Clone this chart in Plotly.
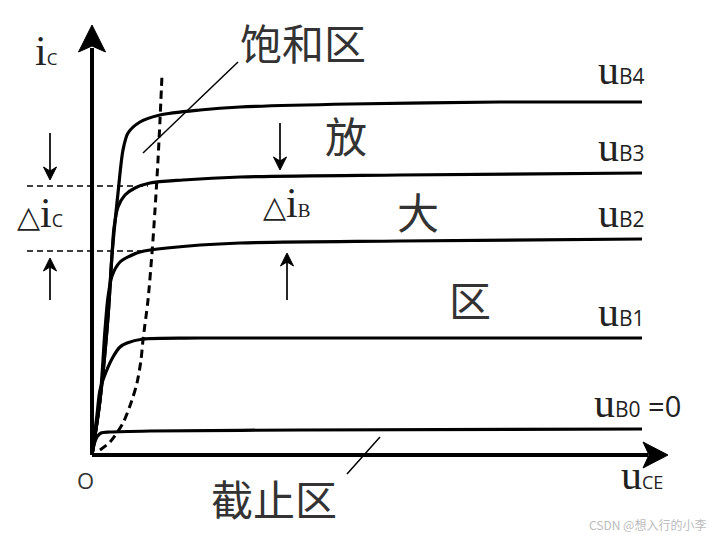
import plotly.graph_objects as go

# ---- data (u_CE in V, i_C in mA) ----
uB4_u = [0.00, 0.16, 0.32, 0.40, 0.52, 0.62, 0.72, 0.96, 1.36, 2.16, 2.96, 5.16, 8.16, 11.0]
uB4_i = [0.00, 0.55, 1.38, 2.00, 2.62, 3.05, 3.22, 3.33, 3.40, 3.45, 3.48, 3.51, 3.53, 3.53]

uB3_u = [0.00, 0.16, 0.32, 0.40, 0.44, 0.52, 0.66, 0.86, 1.16, 1.82, 2.96, 6.16, 11.0]
uB3_i = [0.00, 0.55, 1.38, 2.00, 2.27, 2.48, 2.60, 2.67, 2.72, 2.75, 2.78, 2.80, 2.82]

uB2_u = [0.00, 0.16, 0.26, 0.32, 0.40, 0.56, 0.76, 0.96, 1.50, 2.96, 6.16, 11.0]
uB2_i = [0.00, 0.55, 1.25, 1.58, 1.79, 1.93, 1.99, 2.03, 2.07, 2.12, 2.14, 2.16]

uB1_u = [0.00, 0.10, 0.16, 0.28, 0.42, 0.56, 0.70, 1.02, 2.16, 11.0]
uB1_i = [0.00, 0.40, 0.65, 0.83, 0.98, 1.08, 1.12, 1.16, 1.17, 1.17]

uB0_u = [0.00, 0.04, 0.10, 0.18, 0.36, 1.16, 4.16, 11.0]
uB0_i = [0.00, 0.10, 0.18, 0.22, 0.23, 0.24, 0.25, 0.26]

sat_u = [0.16, 0.36, 0.62, 0.80, 0.90, 0.98, 1.02, 1.12, 1.20, 1.26, 1.32, 1.36, 1.40]
sat_i = [0.05, 0.13, 0.32, 0.55, 0.72, 0.95, 1.15, 1.55, 2.02, 2.45, 2.95, 3.35, 3.80]

curve_labels = ["B4", "B3", "B2", "B1", "B0"]
delta_levels = [2.69, 2.04]          # dashed Δi_C guide levels (mA)

# ---- pixel <-> data helpers (origin at pixel 92,455; 50 px/V, 100 px/mA) ----
OX, OY, SX, SY = 92, 455, 50.0, 100.0
def X(px): return (px - OX) / SX
def Y(py): return (OY - py) / SY

fig = go.Figure()

def line(xs, ys, w=3, dash="solid", shape="spline", color="black"):
    fig.add_trace(go.Scatter(x=xs, y=ys, mode="lines",
                             line=dict(color=color, width=w, dash=dash, shape=shape, smoothing=0.8),
                             hoverinfo="skip"))

def head(tip, direction, L, W, notch):
    tx, ty = tip
    dx, dy = direction
    nx, ny = -dy, dx
    bx, by = tx - dx * L, ty - dy * L
    pts = [(tx, ty), (bx + nx * W, by + ny * W), (tx - dx * (L - notch), ty - dy * (L - notch)),
           (bx - nx * W, by - ny * W), (tx, ty)]
    fig.add_trace(go.Scatter(x=[X(p[0]) for p in pts], y=[Y(p[1]) for p in pts], mode="lines",
                             fill="toself", fillcolor="black", line=dict(color="black", width=1),
                             hoverinfo="skip"))

# axes
line([0, 0], [0, Y(48)], w=4, shape="linear")
head((92, 25), (0, -1), 27, 13.5, 6)
line([0, X(648)], [0, 0], w=4, shape="linear")
head((668, 455), (1, 0), 25, 13, 6)

# characteristic curves
for xs, ys in [(uB4_u, uB4_i), (uB3_u, uB3_i), (uB2_u, uB2_i), (uB1_u, uB1_i), (uB0_u, uB0_i)]:
    line(xs, ys, w=3.2)

# saturation boundary
line(sat_u, sat_i, w=3, dash="8px,5px")

# Δi_C guide lines
for lv in delta_levels:
    line([X(27), X(148)], [lv, lv], w=1.5, dash="6px,4px", shape="linear")

# thin arrows
def arrow(x, y0, y1):
    d = 1 if y1 > y0 else -1
    line([X(x), X(x)], [Y(y0), Y(y1 - d * 8)], w=1.7, shape="linear")
    head((x, y1), (0, d), 13, 6.5, 4)

arrow(50, 133, 180)
arrow(50, 300, 258)
arrow(280, 123, 170)
arrow(287, 300, 253)

# leader lines
line([X(238), X(143)], [Y(62), Y(153)], w=1.5, shape="linear")
line([X(380), X(347)], [Y(437), Y(474)], w=1.5, shape="linear")

ann = []
def txt(s, px, py, size, family, color="#333", xa="center", ya="middle"):
    ann.append(dict(text=s, x=X(px), y=Y(py), xref="x", yref="y", showarrow=False,
                    xanchor=xa, yanchor=ya, font=dict(size=size, family=family, color=color)))

CJK = "Noto Sans CJK SC"
txt("饱和区", 303, 41, 42, CJK)
txt("放", 346, 134, 42, CJK)
txt("大", 418, 210, 42, CJK)
txt("区", 470, 298, 42, CJK)
txt("截止区", 274, 497, 42, CJK)
txt("O", 85, 480, 22, "Open Sans")

SER = "Liberation Serif"
SUB = "font-family:Open Sans;"
def sub(s, size):
    return "<span style='%sfont-size:%dpx'>%s</span>" % (SUB, size, s)
TRI = "<span style='font-family:DejaVu Sans;font-size:30px'>△</span>"

# i_C
txt("i" + sub("C", 17), 33, 76, 42, SER, color="#222", xa="left", ya="bottom")
# Δi_C
txt(TRI + "i" + sub("C", 18), 15, 238, 42, SER, color="#222", xa="left", ya="bottom")
# Δi_B
txt(TRI + "i" + "<span style='font-size:19px'>B</span>", 261, 228, 42, SER, color="#222", xa="left", ya="bottom")

# u_B labels
base_y = [85, 162, 228, 327]
for lab, by in zip(curve_labels[:4], base_y):
    txt("u" + sub(lab, 21), 596, by + 10, 42, SER, color="#222", xa="left", ya="bottom")
txt("u" + sub("B0", 21) + "<span style='font-family:Open Sans;font-size:29px'> =0</span>",
    592, 428, 42, SER, color="#222", xa="left", ya="bottom")
# u_CE
txt("u" + sub("CE", 18), 619, 500, 42, SER, color="#222", xa="left", ya="bottom")

# watermark
txt("CSDN @想入行的小李", 708, 524, 12, CJK, color="#bbbbbb", xa="right")

fig.update_layout(
    width=720, height=537, margin=dict(l=0, r=0, t=0, b=0),
    paper_bgcolor="white", plot_bgcolor="white", showlegend=False,
    xaxis=dict(range=[X(0), X(720)], visible=False, fixedrange=True),
    yaxis=dict(range=[Y(537), Y(0)], visible=False, fixedrange=True),
    annotations=ann,
)
fig.write_html("out.html", config={"displayModeBar": False},
               post_script="document.body.style.margin='0';document.body.style.overflow='hidden';")
